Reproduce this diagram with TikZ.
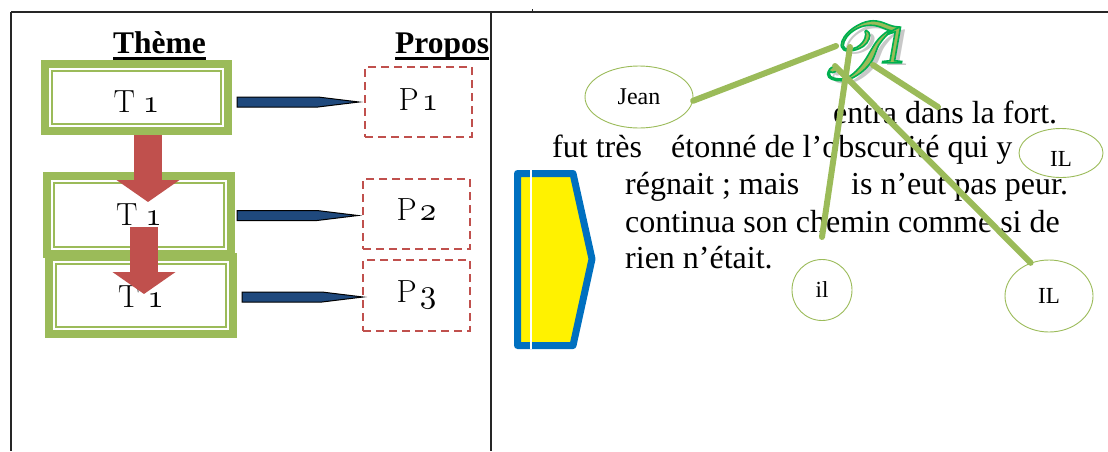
\documentclass[tikz,border=0pt]{standalone}
\usepackage{fontspec}
\usetikzlibrary{shapes.geometric,arrows.meta,calc}
\newfontfamily\tnr{Liberation Serif}
\definecolor{ogreen}{RGB}{155,187,89}
\definecolor{ored}{RGB}{192,80,77}
\definecolor{oblue}{RGB}{31,73,125}
\definecolor{pblue}{RGB}{0,112,192}
\definecolor{dgreen}{RGB}{0,176,80}
\definecolor{shadowgray}{RGB}{200,200,200}
% old-style digits and the swash capital
\font\oldnum=cmmi10 at 33pt
\font\rsfsbig=rsfs10 at 80pt
\newcommand\lowered[2]{\raisebox{-#1}[0pt][0pt]{#2}}
\newcommand\thickul[1]{\setbox0\hbox{#1}\rlap{\rule[-7pt]{\wd0}{3pt}}\box0}
% glyphs filled with the text colour and stroked in dark green
\newcommand\outlined[1]{\special{pdf:literal direct 2 Tr 1.6 w 0 0.69 0.31 RG}#1\special{pdf:literal direct 0 Tr}}
\newcommand\pointer[2]{%
  \filldraw[fill=oblue, draw=black, line width=1pt]
    ($(#1)+(0,-5)$) -- ($(#2)+(-41,-5)$) -- (#2) -- ($(#2)+(-41,5)$) -- ($(#1)+(0,5)$) -- cycle;}
\begin{document}
\begin{tikzpicture}[x=1pt,y=-1pt,
  frame/.style={draw=black!85, line width=1.6pt},
  tbox/.style={draw=ogreen, line width=8pt, fill=white, inner sep=0pt,
    font=\fontsize{32}{32}\selectfont,
    path picture={\draw[ogreen, line width=2pt]
      ([shift={(7pt,-7pt)}]path picture bounding box.north west) rectangle
      ([shift={(-7pt,7pt)}]path picture bounding box.south east);}},
  pbox/.style={draw=ored, line width=2pt, dash pattern=on 8pt off 5pt,
    minimum width=107pt, inner sep=0pt, font=\fontsize{32}{32}\selectfont},
  head/.style={anchor=base west, inner sep=0pt, font={\fontsize{31.5}{32}\tnr\bfseries}},
  redarrow/.style={draw=ored, line width=28pt, -{Triangle[length=22pt,width=62pt]}},
  para/.style={anchor=base west, inner sep=0pt, font={\fontsize{32}{36}\tnr}},
  ell/.style={ellipse, draw=ogreen, line width=0.9pt, inner sep=0pt, font={\fontsize{23}{23}\tnr}},
  wa/.style={inner sep=0pt, anchor=center},
  gline/.style={draw=ogreen, line width=6pt, line cap=round}]
\useasboundingbox (0,0) rectangle (1108,451);

% table rules
\draw[frame] (11,12) -- (1108,12);
\draw[frame] (11,12) -- (11,451);
\draw[frame] (491,12) -- (491,451);
\draw[black!85, line width=0.8pt] (532,9) -- (532,13);

% column headings
\node[head] (theme) at (113,53) {\thickul{Thème}};
\node[head] (propos) at (395,53) {\thickul{Propos}};

% theme boxes
\node[tbox, minimum width=183pt, minimum height=67pt] (b1) at (136.5,97.5)
  {\lowered{15pt}{T\kern8pt{\oldnum 1}}};
\node[tbox, minimum width=184pt, minimum height=78pt] (b2) at (139,215)
  {\lowered{10pt}{T\kern8pt{\oldnum 1}}};
\node[tbox, minimum width=184pt, minimum height=77pt] (b3) at (141,295.5)
  {\lowered{11.5pt}{T\kern8pt{\oldnum 1}}};

% propos boxes
\node[pbox, minimum height=70pt] (p1) at (418.5,102) {\lowered{8pt}{P\kern3pt{\oldnum 1}}};
\node[pbox, minimum height=70pt] (p2) at (416.5,214) {\lowered{6pt}{P\kern3pt{\oldnum 2}}};
\node[pbox, minimum height=71pt] (p3) at (416.5,295.5) {\lowered{6.5pt}{P\kern3pt{\oldnum 3}}};

% theme progression arrows
\draw[redarrow] ([xshift=11.5pt]b1.south) -- ++(0,67);
\draw[redarrow] ([shift={(5pt,-12pt)}]b2.center) -- ++(0,67);

% theme-to-propos pointers
\coordinate (s1) at ($(b1.east |- p1.west)+(5,0)$);
\coordinate (e1) at ($(p1.west)+(-5,0)$);
\coordinate (s2) at ($(b2.east |- p2.west)+(2,1.5)$);
\coordinate (e2) at ($(p2.west)+(-4,1.5)$);
\coordinate (s3) at ($(b3.east |- p3.west)+(5,1.5)$);
\coordinate (e3) at ($(p3.west)+(1,1.5)$);
\pointer{s1}{e1}
\pointer{s2}{e2}
\pointer{s3}{e3}

% bracket shape
\draw[pblue, line width=7pt, fill=yellow, line join=round]
  (517.5,173.5) -- (573,173.5) -- (592,259) -- (573,345.5) -- (517.5,345.5) -- cycle;
\draw[white, line width=2pt] (531,170) -- (531,349);

% text
\node[para] (l1) at (833,123) {entra dans la fort.};
\node[para] (l2a) at (552,157) {fut très};
\node[para] (l2b) at (671,157) {étonné de l’obscurité qui y};
\node[para] (l3a) at (625,194) {régnait ; mais};
\node[para] (l3b) at (851,194) {is n’eut pas peur.};
\node[para] (l4) at (625,232) {continua son chemin comme si de};
\node[para] (l5) at (625,268) {rien n’était.};

% referents
\node[ell, minimum width=108pt, minimum height=62pt, font={\fontsize{24}{24}\tnr}] (jean) at (639,97) {Jean};
\node[ell, minimum width=84pt, minimum height=49pt] (ilt) at (1061,153) {\lowered{13pt}{IL}};
\node[ell, minimum width=60pt, minimum height=61pt] (il) at (822,290) {il};
\node[ell, minimum width=88pt, minimum height=72pt] (ilb) at (1049,296) {IL};

% decorated theme label: shadow, then outlined glyphs
\node[wa, text=shadowgray, font=\rsfsbig] (ts) at (855,54) {T};
\node[wa, text=shadowgray, font={\fontsize{54}{54}\tnr\itshape}] (ones) at (899,48) {1};
\node[wa, text=ogreen, font=\rsfsbig] (t1) at (850,51) {\outlined{T}};
\node[wa, text=ogreen, font={\fontsize{54}{54}\tnr\itshape}] (one) at (894,45) {\outlined{1}};

% anaphoric links
\coordinate (a1) at (836,46);
\coordinate (a2) at (850,47);
\coordinate (z2) at (822,237);
\coordinate (a3) at (835,66);
\coordinate (a4) at (873,65);
\coordinate (z4) at (938,107);
\draw[gline] (jean.-4) -- (a1);
\draw[gline] (a2) -- (z2);
\draw[gline] (a3) -- (ilb.119);
\draw[gline] (a4) -- (z4);
\end{tikzpicture}
\end{document}
